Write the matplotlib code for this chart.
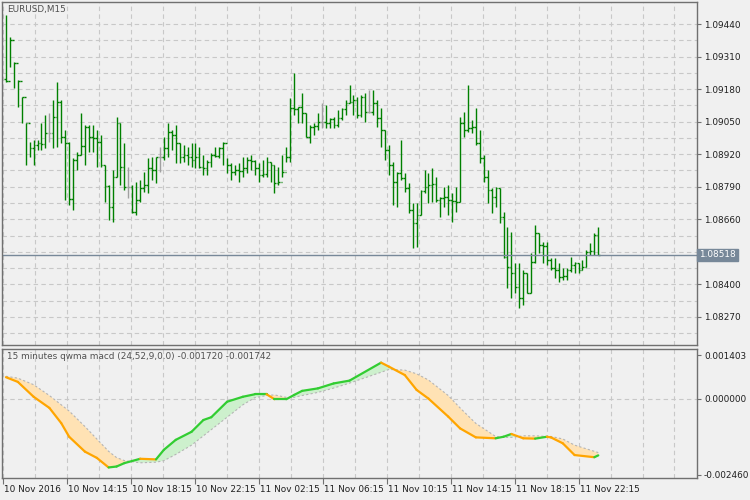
import numpy as np
import matplotlib
matplotlib.use("Agg")
import matplotlib.pyplot as plt
import matplotlib.transforms as mt

# ---- price data (EURUSD M15) ----
high = [1.09476,1.09388,1.09288,1.09216,1.09148,1.09044,1.08968,1.08976,1.08976,1.09044,
        1.09076,1.09084,1.09136,1.09208,1.09136,1.09016,1.08968,1.08904,1.08928,1.09084,
        1.09036,1.09036,1.09036,1.09016,1.08996,1.08876,1.08796,1.08856,1.09068,1.09044,
        1.08964,1.08868,1.08796,1.08808,1.08816,1.08848,1.08904,1.08908,1.08908,1.08948,
        1.08988,1.09044,1.09016,1.09036,1.08964,1.08956,1.08948,1.08964,1.08964,1.08948,
        1.08916,1.08896,1.08924,1.08948,1.08948,1.08968,1.08904,1.08884,1.08876,1.08884,
        1.08908,1.08908,1.08916,1.08896,1.08884,1.08896,1.08908,1.08888,1.08876,1.08868,
        1.08916,1.08948,1.09144,1.09244,1.09108,1.09164,1.09084,1.09036,1.09044,1.09084,
        1.09124,1.09116,1.09064,1.09068,1.09096,1.09104,1.09136,1.09196,1.09156,1.09148,
        1.09156,1.09164,1.09176,1.09176,1.09136,1.09104,1.09016,1.08956,1.08888,1.08848,
        1.08976,1.08844,1.08804,1.08724,1.08724,1.08776,1.08856,1.08844,1.08864,1.08828,
        1.08748,1.08788,1.08796,1.08764,1.08788,1.09068,1.09088,1.09196,1.09056,1.09104,
        1.09016,1.08916,1.08856,1.08784,1.08788,1.08784,1.08688,1.08628,1.08608,1.08484,
        1.08484,1.08456,1.08444,1.08524,1.08636,1.08604,1.08568,1.08568,1.08504,1.08504,
        1.08484,1.08464,1.08464,1.08508,1.08488,1.08484,1.08496,1.08536,1.08564,1.08604,
        1.08628]
low = [1.09208,1.09268,1.09184,1.09108,1.09044,1.08876,1.08908,1.08876,1.08936,1.08936,
       1.08944,1.08968,1.08944,1.08948,1.08964,1.08736,1.08716,1.08696,1.08856,1.08916,
       1.08876,1.08928,1.08928,1.08868,1.08868,1.08728,1.08656,1.08648,1.08828,1.08796,
       1.08776,1.08744,1.08684,1.08676,1.08728,1.08768,1.08764,1.08816,1.08804,1.08848,
       1.08896,1.08908,1.08936,1.08884,1.08884,1.08888,1.08876,1.08868,1.08864,1.08864,
       1.08836,1.08836,1.08868,1.08908,1.08904,1.08876,1.08844,1.08816,1.08836,1.08808,
       1.08828,1.08844,1.08856,1.08836,1.08808,1.08828,1.08828,1.08808,1.08764,1.08796,
       1.08828,1.08888,1.08888,1.09076,1.09044,1.09044,1.08988,1.08964,1.08996,1.09016,
       1.09024,1.09024,1.09024,1.09024,1.09028,1.09056,1.09076,1.09124,1.09076,1.09064,
       1.09068,1.09048,1.09084,1.09076,1.09028,1.08948,1.08896,1.08836,1.08716,1.08708,
       1.08816,1.08768,1.08684,1.08544,1.08548,1.08676,1.08764,1.08724,1.08728,1.08728,
       1.08668,1.08708,1.08676,1.08648,1.08688,1.08728,1.08988,1.09008,1.09004,1.08956,
       1.08884,1.08808,1.08724,1.08684,1.08708,1.08644,1.08504,1.08384,1.08344,1.08364,
       1.08304,1.08316,1.08364,1.08364,1.08484,1.08524,1.08484,1.08476,1.08456,1.08424,
       1.08408,1.08416,1.08416,1.08448,1.08444,1.08444,1.08456,1.08468,1.08516,1.08516,
       1.08516]
close = [1.09212,1.09376,1.09284,1.09212,1.09148,1.09044,1.08944,1.08956,1.08964,1.08960,
         1.09004,1.09004,1.09068,1.09128,1.08988,1.08964,1.08740,1.08896,1.08916,1.08952,
         1.09028,1.08988,1.08984,1.08968,1.08876,1.08792,1.08708,1.08828,1.09044,1.08868,
         1.08788,1.08788,1.08688,1.08736,1.08784,1.08796,1.08864,1.08856,1.08908,1.08908,
         1.08944,1.09008,1.08996,1.08964,1.08908,1.08916,1.08908,1.08896,1.08908,1.08868,
         1.08864,1.08888,1.08916,1.08912,1.08944,1.08964,1.08876,1.08848,1.08856,1.08852,
         1.08864,1.08896,1.08892,1.08864,1.08836,1.08840,1.08888,1.08876,1.08804,1.08808,
         1.08848,1.08908,1.09104,1.09100,1.09108,1.09084,1.08988,1.09028,1.09032,1.09048,
         1.09048,1.09044,1.09060,1.09036,1.09064,1.09100,1.09124,1.09128,1.09136,1.09076,
         1.09148,1.09088,1.09088,1.09124,1.09064,1.09016,1.08936,1.08876,1.08808,1.08844,
         1.08824,1.08784,1.08696,1.08644,1.08676,1.08772,1.08788,1.08796,1.08800,1.08736,
         1.08744,1.08748,1.08736,1.08732,1.08728,1.09044,1.09016,1.09024,1.09028,1.08964,
         1.08904,1.08828,1.08776,1.08748,1.08784,1.08668,1.08508,1.08468,1.08444,1.08388,
         1.08344,1.08444,1.08364,1.08488,1.08604,1.08556,1.08552,1.08496,1.08464,1.08456,
         1.08428,1.08432,1.08456,1.08476,1.08484,1.08456,1.08468,1.08528,1.08532,1.08596,
         1.08518]
first_open = 1.09220
last_price = 1.08518
price_ticks = [1.09440, 1.09310, 1.09180, 1.09050, 1.08920, 1.08790, 1.08660, 1.08400, 1.08270]

# ---- QWMA MACD indicator (key points by bar index) ----
macd_idx = [0,3,7,11,14,16,20,23,26,28,30,34,38,40,43,47,50,52,56,60,63,66,68,71,73,75,79,83,87,
            95,97,101,104,107,112,115,119,124,126,128,131,134,137,138,141,144,149,150]
macd_val = [0.00069,0.00054,0.00006,-0.00030,-0.00079,-0.00123,-0.00171,-0.00191,-0.00222,-0.00219,
            -0.00208,-0.00194,-0.00196,-0.00165,-0.00133,-0.00107,-0.00069,-0.00060,-0.00010,0.00006,
            0.00014,0.00014,-0.00002,-0.00002,0.00012,0.00025,0.00033,0.00049,0.00058,
            0.00116,0.00103,0.00076,0.00028,0.00000,-0.00058,-0.00096,-0.00125,-0.00128,-0.00123,
            -0.00114,-0.00128,-0.00129,-0.00123,-0.00125,-0.00144,-0.00182,-0.00189,-0.00183]
sig_val = [0.00072,0.00066,0.00045,0.00010,-0.00020,-0.00040,-0.00090,-0.00130,-0.00170,-0.00190,
           -0.00200,-0.00207,-0.00205,-0.00200,-0.00180,-0.00150,-0.00120,-0.00100,-0.00060,-0.00020,
           0.00003,0.00010,0.00012,0.00004,0.00004,0.00010,0.00020,0.00034,0.00050,
           0.00085,0.00094,0.00092,0.00080,0.00060,0.00010,-0.00030,-0.00080,-0.00122,-0.00125,
           -0.00125,-0.00120,-0.00120,-0.00122,-0.00122,-0.00130,-0.00150,-0.00170,-0.00174]
ind_ticks = [0.001403, 0.000000, -0.002460]
date_labels = ["10 Nov 2016", "10 Nov 14:15", "10 Nov 18:15", "10 Nov 22:15", "11 Nov 02:15",
               "11 Nov 06:15", "11 Nov 10:15", "11 Nov 14:15", "11 Nov 18:15", "11 Nov 22:15"]

BG = "#F0F0F0"
FRAME = "#707070"
FS = 6.4
W, H = 750, 500
fig = plt.figure(figsize=(7.5, 5), dpi=100, facecolor=BG)
ax = fig.add_axes([2/W, 1-345/H, 695/W, 343/H], facecolor=BG)
ax2 = fig.add_axes([2/W, 1-478/H, 695/W, 129/H], facecolor=BG)

n = len(close)
opens = [first_open] + close[:-1]
XL = (-1.0, 175.0)

for i in range(n):
    c = "#A0A0A0" if abs(opens[i]-close[i]) < 1e-9 else "#008000"
    ax.vlines(i, low[i], high[i], color=c, lw=1.0)
    ax.hlines(opens[i], i-0.45, i, color=c, lw=1.0)
    ax.hlines(close[i], i, i+0.45, color=c, lw=1.0)

ax.set_xlim(*XL)
ax.set_ylim(1.08158, 1.09528)
ax.axhline(last_price, color="#778899", lw=1.0)

vgrid = np.arange(-0.8, 175, 8.1)
grid_kw = dict(color="#C8C8C8", lw=0.8, ls=(0, (4, 3)), zorder=0)
for a in (ax, ax2):
    for gx in vgrid:
        a.axvline(gx, **grid_kw)
for k in range(0, 22):
    ax.axhline(1.09440 - 0.00065*k, **grid_kw)
ax2.axhline(0.0, **grid_kw)

for a in (ax, ax2):
    a.yaxis.tick_right()
    a.tick_params(axis="y", direction="out", length=3, color=FRAME, labelsize=FS,
                  labelcolor="#202020", pad=2)
    a.tick_params(axis="x", length=0, labelbottom=False)
    for s in a.spines.values():
        s.set_color(FRAME)
        s.set_linewidth(1.0)
ax.set_yticks(price_ticks)
ax.set_yticklabels([f"{t:.5f}" for t in price_ticks])
ax.set_xticks([])
ax.text(1.003, last_price, f"{last_price:.5f}", transform=ax.get_yaxis_transform(),
        va="center", ha="left", fontsize=FS, color="white",
        bbox=dict(boxstyle="square,pad=0.2", fc="#778899", ec="#778899"), clip_on=False)
ax.text(5/695, 1-3/343, "EURUSD,M15", transform=ax.transAxes, fontsize=FS,
        color="#505050", va="top", ha="left")

mi = np.array(macd_idx, float); mv = np.array(macd_val); sv = np.array(sig_val)
ax2.fill_between(mi, mv, sv, where=mv < sv, interpolate=True, color="#FFE2B4", lw=0)
ax2.fill_between(mi, mv, sv, where=mv >= sv, interpolate=True, color="#CDF0CD", lw=0)
ax2.plot(mi, sv, color="#B4B4B4", lw=0.8, ls=(0, (2, 2)))
for j in range(len(mi)-1):
    col = "#32CD32" if mv[j+1] >= mv[j] else "#FFA500"
    ax2.plot(mi[j:j+2], mv[j:j+2], color=col, lw=1.6, solid_capstyle="round")
ax2.set_xlim(*XL)
ax2.set_ylim(-0.00256, 0.00160)
ax2.set_yticks(ind_ticks)
ax2.set_yticklabels([f"{t:.6f}" for t in ind_ticks])
ax2.text(5/695, 1-3/129, "15 minutes qwma macd (24,52,9,0.0) -0.001720 -0.001742",
         transform=ax2.transAxes, fontsize=FS, color="#505050", va="top", ha="left")

tick_pos = [-0.8 + 16.2*k for k in range(len(date_labels))]
ax2.set_xticks(tick_pos)
ax2.tick_params(axis="x", direction="out", length=4, color=FRAME, labelbottom=True,
                labelsize=FS, labelcolor="#202020", pad=1)
ax2.set_xticklabels(date_labels, ha="left")
off = mt.ScaledTranslation(1/100, 0, fig.dpi_scale_trans)
for lab in ax2.get_xticklabels():
    lab.set_transform(lab.get_transform() + off)

fig.savefig("out.png", dpi=100, facecolor=BG)
